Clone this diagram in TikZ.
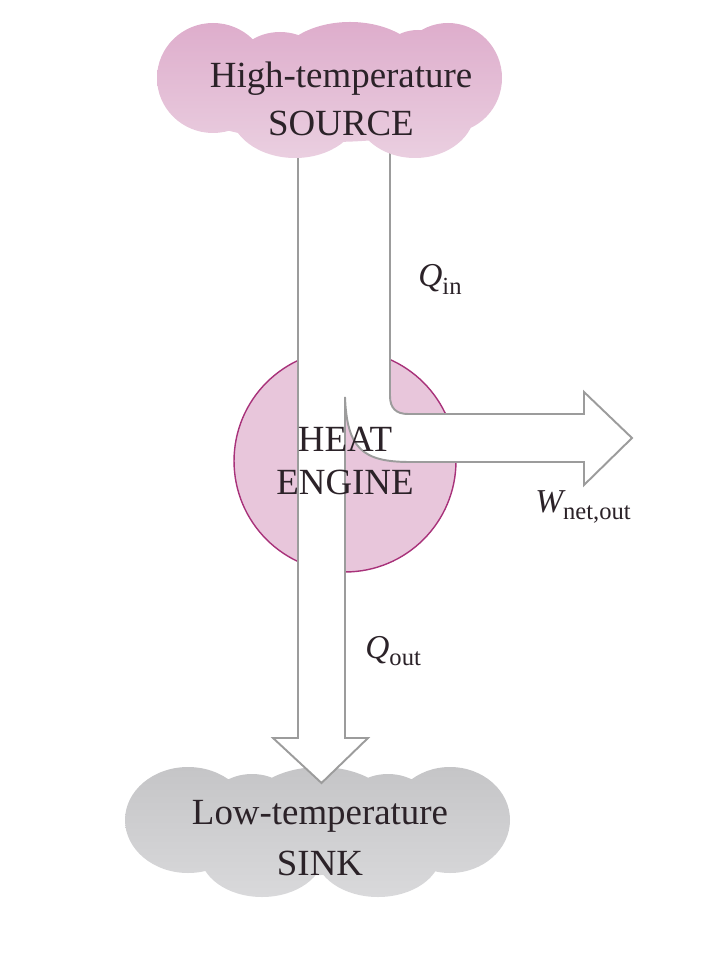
\documentclass[tikz,border=0pt]{standalone}
\usepackage{fontspec}
\setmainfont{Liberation Serif}

\definecolor{inkdark}{HTML}{2B2228}
\definecolor{bandgray}{HTML}{9C9C9C}
\definecolor{srcpinktop}{HTML}{DEADCC}
\definecolor{srcpinkbot}{HTML}{EACFE0}
\definecolor{enginepink}{HTML}{E8C6DB}
\definecolor{enginerim}{HTML}{A8327A}
\definecolor{sinkgraytop}{HTML}{C5C5C7}
\definecolor{sinkgraybot}{HTML}{D9D9DB}

% italic symbol with upright lowered index
\newcommand{\flowlbl}[2]{{\itshape #1}\raisebox{-4.5pt}{\fontsize{14}{14}\selectfont #2}}

\begin{document}
\begin{tikzpicture}[x=0.02cm,y=-0.02cm,
  cloudtext/.style={align=center,text=inkdark,inner sep=0pt},
  enginedisc/.style={circle,fill=enginepink,draw=enginerim,line width=0.8pt,minimum size=4.44cm,inner sep=0pt},
  band/.style={fill=white,draw=bandgray,line width=1.1pt,line join=miter},
  flow/.style={text=inkdark,inner sep=0pt,font=\fontsize{19}{19}\selectfont}]
  \useasboundingbox (0,0) rectangle (707,955);

  % low-temperature sink cloud
  \shade[top color=sinkgraytop,bottom color=sinkgraybot]
    (188,820) ellipse [x radius=63, y radius=53]
    (320,813) ellipse [x radius=75, y radius=46]
    (450,820) ellipse [x radius=60, y radius=53]
    (252,810) ellipse [x radius=45, y radius=36]
    (388,810) ellipse [x radius=45, y radius=36]
    (262,853) ellipse [x radius=62, y radius=44]
    (378,853) ellipse [x radius=63, y radius=44]
    (318,830) ellipse [x radius=175, y radius=45];

  % heat engine
  \node[enginedisc] (engine) at (345,461) {};

  % heat flow band
  \draw[band] (298,150) -- (298,738) -- (273,738) -- (321.5,783) -- (368,738) -- (345,738) -- (345,397)
    .. controls (347,448) and (362,462) .. (410,462) -- (584,462) -- (584,485) -- (632,438)
    -- (584,392) -- (584,414) -- (408,414) .. controls (396,414) and (390,408) .. (390,396) -- (390,150);

  % high-temperature source cloud
  \shade[top color=srcpinktop,bottom color=srcpinkbot]
    (213,78) ellipse [x radius=56, y radius=55]
    (350,70) ellipse [x radius=75, y radius=48]
    (448,78) ellipse [x radius=54, y radius=55]
    (280,68) ellipse [x radius=45, y radius=36]
    (418,66) ellipse [x radius=40, y radius=36]
    (295,110) ellipse [x radius=65, y radius=48]
    (415,110) ellipse [x radius=60, y radius=48]
    (330,92) ellipse [x radius=160, y radius=50];

  \node[cloudtext,font=\fontsize{21}{27}\selectfont] (source) at (341,99) {High-temperature\\SOURCE};
  \node[cloudtext,font=\fontsize{21}{29}\selectfont] (sink) at (320,838) {Low-temperature\\SINK};
  \node[cloudtext,font=\fontsize{21}{24}\selectfont] (enginelabel) at (engine.center) {HEAT\\ENGINE};

  \node[flow,anchor=base west] (qin) at (418,287) {\flowlbl{Q}{in}};
  \node[flow,anchor=base west] (qout) at (365,658) {\flowlbl{Q}{out}};
  \node[flow,anchor=base west] (wnet) at (535,512) {\flowlbl{W}{net,out}};
\end{tikzpicture}
\end{document}
